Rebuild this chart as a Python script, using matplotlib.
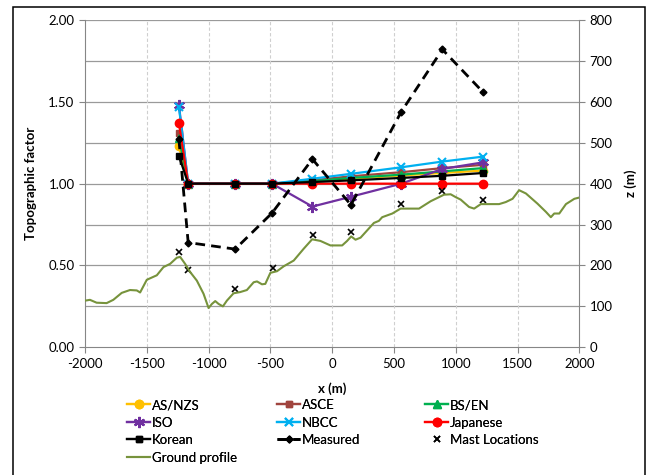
import matplotlib
matplotlib.use('Agg')
import matplotlib.pyplot as plt
from matplotlib.patches import Rectangle
from matplotlib.ticker import FormatStrFormatter, MultipleLocator
import numpy as np

plt.rcParams['font.family'] = ['Lato', 'DejaVu Sans']
plt.rcParams['font.size'] = 9.5
plt.rcParams['axes.unicode_minus'] = False

# positions of the measurement points (m)
x_pts = [-1240, -1165, -785, -487, -160, 152, 560, 892, 1220]

# topographic factors
as_nzs   = [1.23, 1.00, 1.00, 1.00, 1.01, 1.03, 1.05, 1.065, 1.08]
asce     = [1.31, 1.00, 1.00, 1.00, 1.02, 1.045, 1.07, 1.095, 1.115]
bs_en    = [1.28, 1.00, 1.00, 1.00, 1.015, 1.035, 1.055, 1.075, 1.095]
iso      = [1.48, 1.00, 1.00, 1.00, 0.86, 0.92, 1.00, 1.09, 1.13]
nbcc     = [1.47, 1.00, 1.00, 1.00, 1.03, 1.06, 1.10, 1.135, 1.165]
japanese = [1.37, 1.00, 1.00, 1.00, 1.00, 1.00, 1.00, 1.00, 1.00]
korean   = [1.17, 1.00, 1.00, 1.00, 1.01, 1.02, 1.035, 1.048, 1.065]
measured = [1.27, 0.64, 0.60, 0.82, 1.15, 0.87, 1.44, 1.82, 1.56]

# mast locations (z in m)
mast_x = [-1238, -1163, -784, -482, -157, 154, 560, 892, 1222]
mast_z = [233, 190, 143, 194, 274, 283, 351, 382, 361]

# ground profile
ground_x = [-2000, -1960, -1906, -1825, -1771, -1703, -1636, -1581, -1554, -1500,
            -1419, -1365, -1311, -1257, -1230, -1190, -1149, -1095, -1041, -1000,
            -973, -946, -919, -884, -852, -798, -744, -690, -635, -608,
            -568, -541, -500, -446, -392, -311, -230, -162, -95, -14,
            81, 121, 154, 189, 230, 284, 338, 378, 405, 487,
            554, 703, 797, 905, 959, 1000, 1040, 1108, 1149, 1203,
            1284, 1351, 1405, 1460, 1513, 1568, 1662, 1730, 1770, 1797,
            1838, 1892, 1960, 2000]
ground_z = [114, 116, 109, 108, 116, 133, 140, 139, 134, 165,
            176, 196, 204, 219, 221, 204, 184, 163, 131, 96,
            106, 113, 106, 100, 114, 132, 135, 140, 159, 161,
            154, 155, 182, 186, 198, 212, 241, 264, 260, 249,
            249, 260, 271, 263, 268, 286, 304, 309, 318, 327,
            339, 339, 357, 373, 374, 367, 361, 343, 339, 350,
            350, 350, 355, 363, 384, 376, 351, 331, 318, 327,
            327, 350, 363, 366]

fig = plt.figure(figsize=(6.49, 4.75), dpi=100)
ax = fig.add_axes([85/649, 1-347.3/475, (579.3-85)/649, (347.3-20)/475])
ax2 = ax.twinx()

# grid
for y in np.arange(0.25, 2.01, 0.25):
    ax.axhline(y, color='#9a9a9a', lw=0.9, zorder=0)
for x in np.arange(-1500, 1501, 500):
    ax.axvline(x, color='#cfcfcf', lw=0.8, ls=(0, (3, 2)), zorder=0)

# standards
ax.plot(x_pts, as_nzs, color='#FFC000', lw=1.6, marker='o', ms=6, label='AS/NZS')
ax.plot(x_pts, asce, color='#A0443E', lw=1.6, marker='s', ms=5, label='ASCE')
ax.plot(x_pts, bs_en, color='#00B050', lw=1.6, marker='^', ms=6, label='BS/EN')
ax.plot(x_pts, iso, color='#7030A0', lw=1.6, marker=(6, 2, 0), ms=8, mew=1.5, label='ISO')
ax.plot(x_pts, nbcc, color='#00B0F0', lw=1.6, marker='x', ms=6, mew=1.5, label='NBCC')
ax.plot(x_pts, japanese, color='#FF0000', lw=1.6, marker='o', ms=6, label='Japanese')
ax.plot(x_pts, korean, color='black', lw=1.6, marker='s', ms=4.5, label='Korean')
ax.plot(x_pts, measured, color='black', lw=2.0, ls=(0, (3.5, 2.2)), marker='D', ms=3.5,
        label='Measured')

# secondary axis
ax2.plot(mast_x, mast_z, ls='none', color='black', marker='x', ms=4, mew=1.2,
         label='Mast Locations')
ax2.plot(ground_x, ground_z, color='#77933C', lw=1.5, label='Ground profile')

ax.set_xlim(-2000, 2000)
ax.set_ylim(0, 2)
ax2.set_ylim(0, 800)
ax.set_xticks(np.arange(-2000, 2001, 500))
ax.yaxis.set_major_locator(MultipleLocator(0.5))
ax.yaxis.set_major_formatter(FormatStrFormatter('%.2f'))
ax2.yaxis.set_major_locator(MultipleLocator(100))

for a in (ax, ax2):
    for s in a.spines.values():
        s.set_color('#868686')
    a.spines['top'].set_visible(False)
    a.tick_params(colors='#868686', labelcolor='black', length=4, width=0.8)
ax.spines['right'].set_visible(False)
ax2.spines['left'].set_visible(False)
ax2.spines['bottom'].set_visible(False)

ax.set_xlabel('x (m)', fontweight='bold', labelpad=9)
ax.set_ylabel('Topographic factor', fontweight='bold', labelpad=8)
ax2.set_ylabel('z (m)', fontweight='bold', labelpad=8)

# legend in three columns
h1, l1 = ax.get_legend_handles_labels()
h2, l2 = ax2.get_legend_handles_labels()
hd = dict(zip(l1 + l2, h1 + h2))
cols = [['AS/NZS', 'ISO', 'Korean', 'Ground profile'],
        ['ASCE', 'NBCC', 'Measured'],
        ['BS/EN', 'Japanese', 'Mast Locations']]
for xpx, names in zip([127, 277, 425], cols):
    lg = fig.legend([hd[n] for n in names], names, loc='upper left',
                    bbox_to_anchor=(xpx/649, 1-399/475), frameon=False,
                    borderpad=0, borderaxespad=0, handlelength=1.75,
                    handletextpad=0.15, labelspacing=0.42, fontsize=9.5)
    fig.add_artist(lg)

# outer chart frame
fig.add_artist(Rectangle((13/649, -0.1), (645-13)/649, 1.1-7/475,
                         transform=fig.transFigure, fill=False,
                         edgecolor='black', lw=1.1))

fig.savefig('out.png', dpi=100)
